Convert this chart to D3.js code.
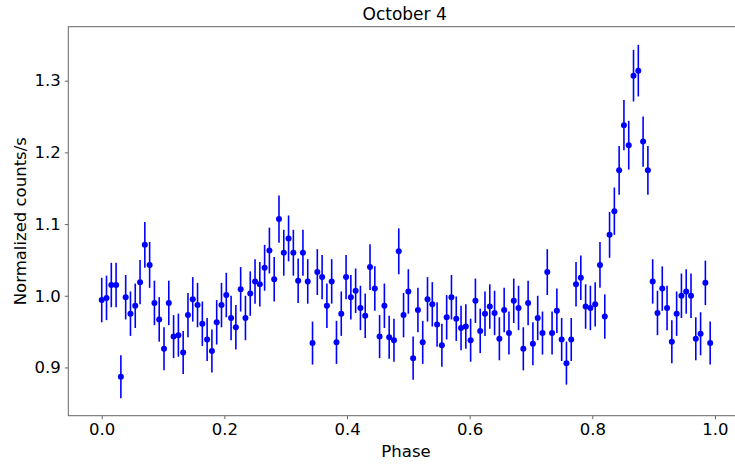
<!DOCTYPE html>
<html>
<head>
<meta charset="utf-8">
<script src="https://cdn.jsdelivr.net/npm/d3@7"></script>
<style>
  body { margin: 0; background: #fff; }
  text { font-family: "DejaVu Sans", sans-serif; fill: #000; }
</style>
</head>
<body>
<div id="chart"></div>
<script>
// folded light curve, 128 phase bins
const nBins = 128;

const counts = [
  0.994, 0.997, 1.015, 1.015, 0.887, 0.998, 0.975, 0.986, 1.019, 1.071,
  1.043, 0.990, 0.967, 0.926, 0.990, 0.943, 0.945, 0.921, 0.973, 0.995,
  0.987, 0.961, 0.939, 0.923, 0.963, 0.987, 1.001, 0.969, 0.956, 1.009,
  0.969, 1.003, 1.020, 1.016, 1.039, 1.063, 1.023, 1.107, 1.060, 1.080,
  1.060, 1.021, 1.060, 1.020, 0.934, 1.033, 1.026, 0.986, 1.020, 0.935,
  0.975, 1.026, 0.998, 1.007, 0.983, 0.972, 1.040, 1.010, 0.943, 0.986,
  0.942, 0.938, 1.062, 0.973, 1.006, 0.913, 0.980, 0.935, 0.995, 0.988,
  0.960, 0.931, 0.970, 0.998, 0.968, 0.955, 0.957, 0.938, 0.993, 0.951,
  0.975, 0.985, 0.976, 0.940, 0.980, 0.948, 0.993, 0.983, 0.926, 0.990,
  0.933, 0.969, 0.948, 1.033, 0.948, 0.979, 0.939, 0.906, 0.939, 1.016,
  1.025, 0.985, 0.983, 0.988, 1.043, 0.971, 1.085, 1.118, 1.175, 1.238,
  1.210, 1.307, 1.314, 1.215, 1.175, 1.020, 0.976, 1.010, 0.983, 0.936,
  0.975, 1.000, 1.006, 1.000, 0.940, 0.947, 1.018, 0.934
];

const errors = [
  0.031, 0.031, 0.031, 0.031, 0.030, 0.031, 0.031, 0.031, 0.031, 0.032,
  0.032, 0.031, 0.031, 0.030, 0.031, 0.030, 0.030, 0.030, 0.031, 0.031,
  0.031, 0.031, 0.030, 0.030, 0.031, 0.031, 0.031, 0.031, 0.031, 0.031,
  0.031, 0.031, 0.031, 0.031, 0.032, 0.032, 0.031, 0.033, 0.032, 0.032,
  0.032, 0.031, 0.032, 0.031, 0.030, 0.032, 0.031, 0.031, 0.031, 0.030,
  0.031, 0.031, 0.031, 0.031, 0.031, 0.031, 0.032, 0.031, 0.030, 0.031,
  0.030, 0.030, 0.032, 0.031, 0.031, 0.030, 0.031, 0.030, 0.031, 0.031,
  0.031, 0.030, 0.031, 0.031, 0.031, 0.031, 0.031, 0.030, 0.031, 0.031,
  0.031, 0.031, 0.031, 0.030, 0.031, 0.030, 0.031, 0.031, 0.030, 0.031,
  0.030, 0.031, 0.030, 0.032, 0.030, 0.031, 0.030, 0.030, 0.030, 0.031,
  0.031, 0.031, 0.031, 0.031, 0.032, 0.031, 0.032, 0.033, 0.034, 0.035,
  0.034, 0.036, 0.036, 0.035, 0.034, 0.031, 0.031, 0.031, 0.031, 0.030,
  0.031, 0.031, 0.031, 0.031, 0.030, 0.030, 0.031, 0.030
];

const xTicks = [0.0, 0.2, 0.4, 0.6, 0.8, 1.0];
const yTicks = [0.9, 1.0, 1.1, 1.2, 1.3];

const width = 735, height = 466;
const plotL = 68.3, plotR = 743.6, plotT = 26.7, plotB = 415.7;

const data = counts.map((v, i) => ({ phase: i / nBins, value: v, err: errors[i] }));

const x = d3.scaleLinear().domain([-0.0545, 1.0467]).range([plotL, plotR]);
const y = d3.scaleLinear().domain([0.8327, 1.3753]).range([plotB, plotT]);

const svg = d3.select("#chart")
  .append("svg")
  .attr("width", width)
  .attr("height", height);

// frame
svg.append("rect")
  .attr("x", plotL).attr("y", plotT)
  .attr("width", plotR - plotL).attr("height", plotB - plotT)
  .attr("fill", "none")
  .attr("stroke", "#666")
  .attr("stroke-width", 1);

const xAxis = svg.append("g")
  .attr("transform", `translate(0,${plotB})`)
  .call(d3.axisBottom(x).tickValues(xTicks).tickFormat(d3.format(".1f")).tickSize(3.5).tickPadding(4));

const yAxis = svg.append("g")
  .attr("transform", `translate(${plotL},0)`)
  .call(d3.axisLeft(y).tickValues(yTicks).tickFormat(d3.format(".1f")).tickSize(3.5).tickPadding(4));

[xAxis, yAxis].forEach(g => {
  g.select(".domain").remove();
  g.selectAll(".tick line").attr("stroke", "#666");
  g.selectAll(".tick text")
    .attr("font-family", "DejaVu Sans, sans-serif")
    .attr("font-size", "16.5px")
    .attr("fill", "#000");
});

// error bars
svg.append("g")
  .selectAll("line")
  .data(data)
  .join("line")
  .attr("x1", d => x(d.phase))
  .attr("x2", d => x(d.phase))
  .attr("y1", d => y(d.value - d.err))
  .attr("y2", d => y(d.value + d.err))
  .attr("stroke", "#0000ff")
  .attr("stroke-width", 1.6);

svg.append("g")
  .selectAll("circle")
  .data(data)
  .join("circle")
  .attr("cx", d => x(d.phase))
  .attr("cy", d => y(d.value))
  .attr("r", 3)
  .attr("fill", "#0000ff");

svg.append("text")
  .attr("x", (plotL + 735) / 2 + 3)
  .attr("y", 20)
  .attr("text-anchor", "middle")
  .attr("font-size", "17px")
  .text("October 4");

svg.append("text")
  .attr("x", 406)
  .attr("y", 457)
  .attr("text-anchor", "middle")
  .attr("font-size", "16.5px")
  .text("Phase");

svg.append("text")
  .attr("transform", `translate(26,${(plotT + plotB) / 2}) rotate(-90)`)
  .attr("text-anchor", "middle")
  .attr("font-size", "16.5px")
  .text("Normalized counts/s");
</script>
</body>
</html>
